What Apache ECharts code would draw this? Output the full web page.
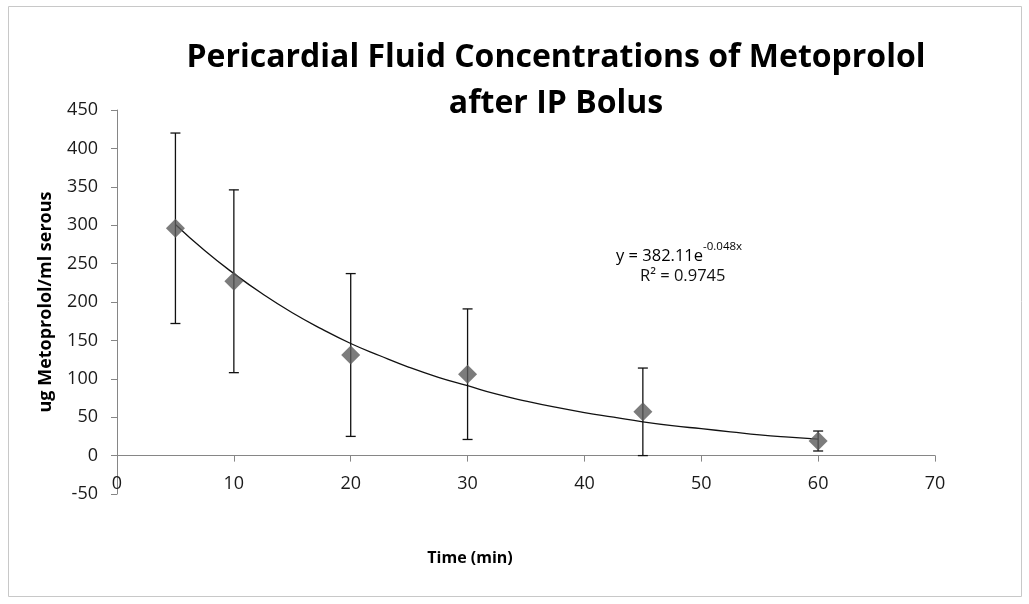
<!DOCTYPE html>
<html><head><meta charset="utf-8">
<script src="https://cdn.jsdelivr.net/npm/echarts@6/dist/echarts.min.js"></script>
<style>html,body{margin:0;padding:0;background:#fff}#c{width:1029px;height:604px}</style>
</head><body><div id="c"></div>
<script>
// Data
const timeMin = [5, 10, 20, 30, 45, 60];
const meanConc = [296, 227, 131, 106, 57, 19];
const errConc = [124, 119, 106, 85, 57, 13];
// Trendline (exponential fit shown on chart) read at sample times
const trendX = [5, 7.5, 10, 12.5, 15, 17.5, 20, 22.5, 25, 27.5, 30, 32.5, 35, 37.5, 40, 42.5, 45, 47.5, 50, 52.5, 55, 57.5, 60];
const trendY = [301, 267, 237, 210, 186, 165, 146, 130, 115, 102, 91, 80, 71, 63, 56, 50, 44, 39, 35, 31, 27, 24, 21.5];
const yTicks = {min: -50, max: 450, interval: 50};
const xTicks = {min: 0, max: 70, interval: 10};

const chart = echarts.init(document.getElementById('c'), null, {renderer: 'canvas'});
const font = '"Open Sans", Lato, sans-serif';
const gridTop = 110, gridBottom = 110, H = 604;
const plotH = H - gridTop - gridBottom;
// pixel shift so the x axis sits on y = 0
const zeroShift = plotH * (0 - yTicks.min) / (yTicks.max - yTicks.min);
const errData = timeMin.map((t, i) => [t, meanConc[i] - errConc[i], meanConc[i] + errConc[i]]);
const option = {
  backgroundColor: '#fff',
  animation: false,
  title: {
    text: 'Pericardial Fluid Concentrations of Metoprolol\nafter IP Bolus',
    left: 551, top: 30, textAlign: 'center',
    textStyle: {fontFamily: font, fontWeight: 'bold', fontSize: 32, lineHeight: 46, color: '#000'}
  },
  grid: {left: 117, right: 94, top: gridTop, bottom: gridBottom, outerBoundsMode: 'none', containLabel: false},
  xAxis: {
    type: 'value', min: xTicks.min, max: xTicks.max, interval: xTicks.interval,
    offset: -zeroShift,
    axisLine: {onZero: false, lineStyle: {color: '#868686', width: 1}},
    axisTick: {show: true, inside: false, length: 6, lineStyle: {color: '#868686'}},
    axisLabel: {fontFamily: font, fontSize: 18, color: '#1a1a1a', margin: 19},
    splitLine: {show: false}
  },
  yAxis: {
    type: 'value', min: yTicks.min, max: yTicks.max, interval: yTicks.interval,
    name: 'ug Metoprolol/ml serous', nameLocation: 'middle', nameGap: 62,
    nameTextStyle: {fontFamily: font, fontWeight: 'bold', fontSize: 18, color: '#000'},
    axisLine: {show: true, lineStyle: {color: '#868686', width: 1}},
    axisTick: {show: true, length: 6, lineStyle: {color: '#868686'}},
    axisLabel: {fontFamily: font, fontSize: 18, color: '#1a1a1a', margin: 19},
    splitLine: {show: false}
  },
  series: [
    {
      type: 'line', data: trendX.map((x, i) => [x, trendY[i]]), smooth: true,
      showSymbol: false, symbol: 'none', lineStyle: {color: '#111', width: 1.3}, z: 2
    },
    {
      type: 'custom', data: errData, z: 3,
      renderItem: function (params, api) {
        const x = api.value(0);
        const lo = api.coord([x, api.value(1)]);
        const hi = api.coord([x, api.value(2)]);
        const w = 5;
        const st = {stroke: '#111', lineWidth: 1.3};
        return {type: 'group', children: [
          {type: 'line', shape: {x1: lo[0], y1: lo[1], x2: hi[0], y2: hi[1]}, style: st},
          {type: 'line', shape: {x1: hi[0] - w, y1: hi[1], x2: hi[0] + w, y2: hi[1]}, style: st},
          {type: 'line', shape: {x1: lo[0] - w, y1: lo[1], x2: lo[0] + w, y2: lo[1]}, style: st}
        ]};
      }
    },
    {
      type: 'scatter', data: timeMin.map((t, i) => [t, meanConc[i]]),
      symbol: 'diamond', symbolSize: [19, 19],
      itemStyle: {color: '#5b5b5b'}, z: 4
    }
  ],
  graphic: [
    {type: 'rect', shape: {x: 8.5, y: 6.5, width: 1013, height: 590}, style: {fill: null, stroke: '#c8c8c8', lineWidth: 1}, z: -1},
    {type: 'text', x: 616, y: 241, style: {
      text: '{a|y = 382.11e}{b|-0.048x}',
      rich: {
        a: {fontFamily: font, fontSize: 16.5, lineHeight: 24, color: '#111', verticalAlign: 'bottom'},
        b: {fontFamily: font, fontSize: 11.5, lineHeight: 24, color: '#111', verticalAlign: 'top', padding: [0, 0, 8, 0]}
      }
    }},
    {type: 'text', x: 640, y: 276, style: {text: 'R² = 0.9745', fontFamily: font, fontSize: 16.5, fill: '#111', verticalAlign: 'middle'}},
    {type: 'text', x: 470, y: 558, style: {text: 'Time (min)', font: 'bold 16px ' + font, fill: '#000', align: 'center', verticalAlign: 'middle'}}
  ]
};
chart.setOption(option);
</script></body></html>
